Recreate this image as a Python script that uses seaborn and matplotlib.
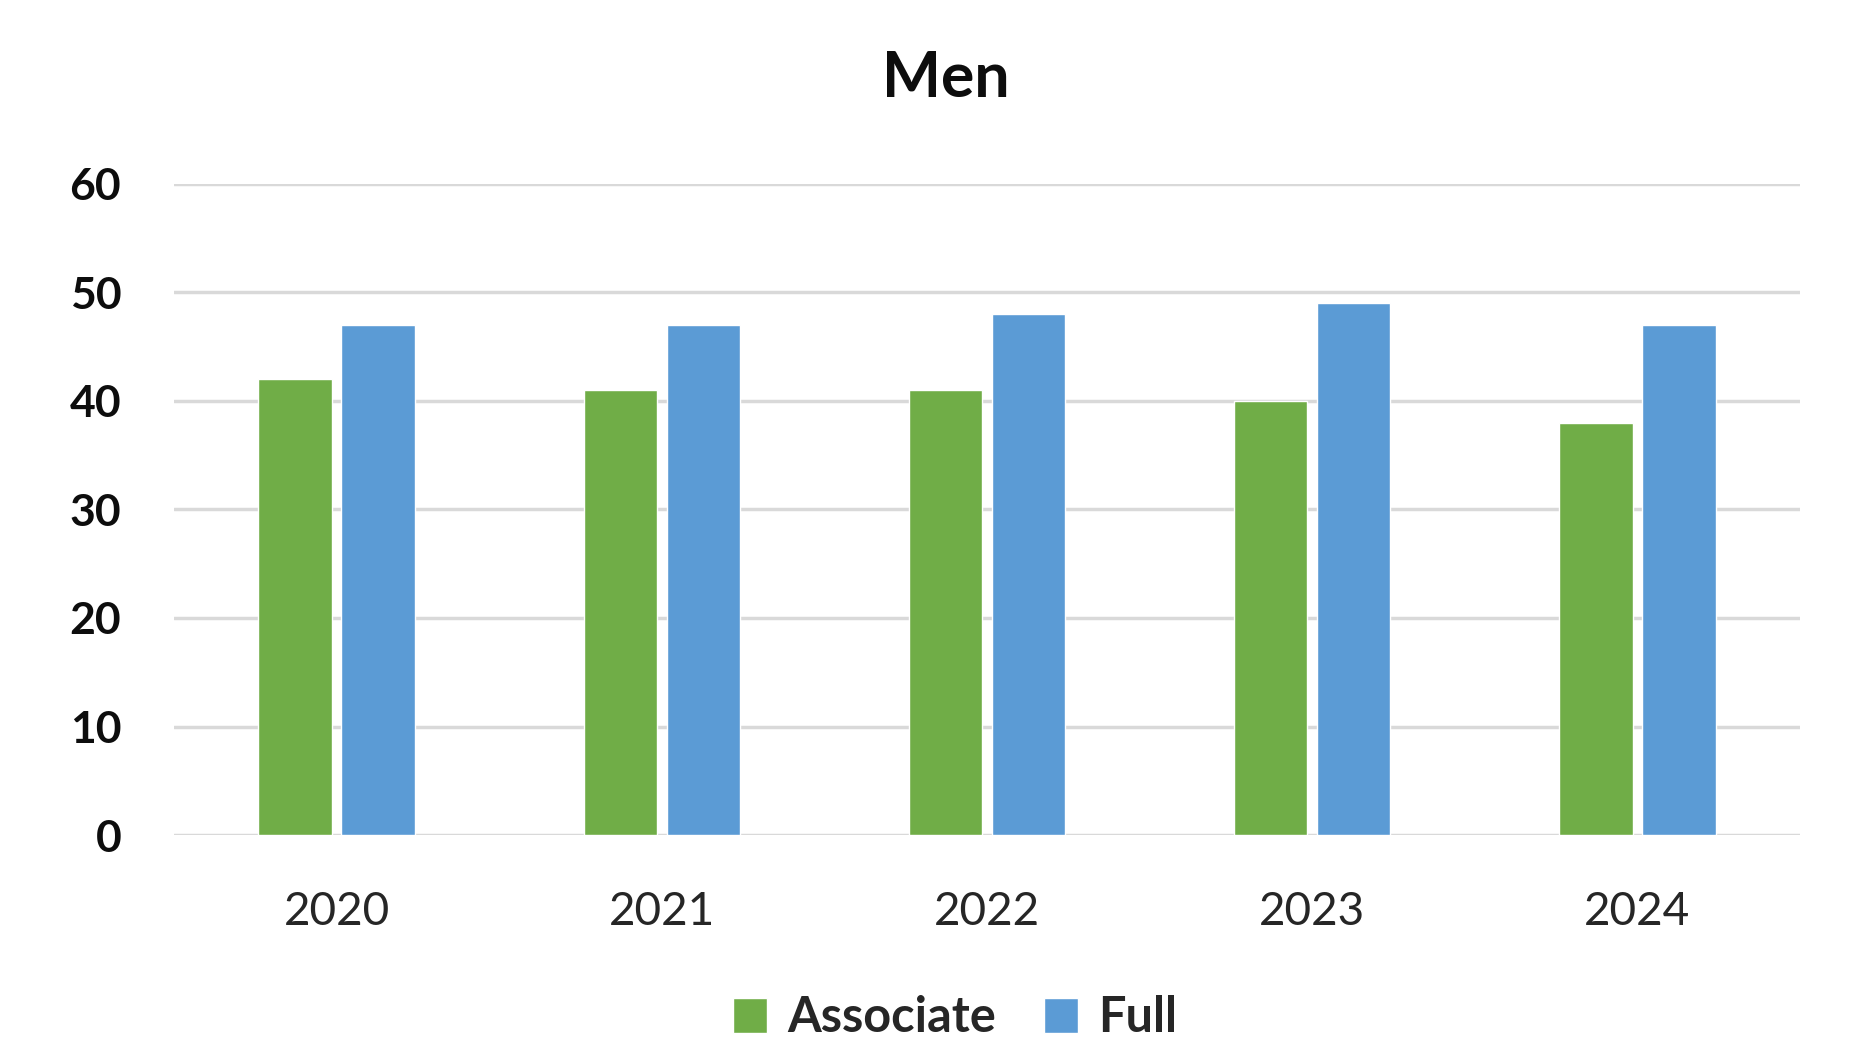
import matplotlib
matplotlib.use("Agg")
import matplotlib.pyplot as plt
import seaborn as sns
import pandas as pd
from matplotlib.patches import Patch

years = ["2020", "2021", "2022", "2023", "2024"]
associate = [42, 41, 41, 40, 38]
full = [47, 47, 48, 49, 47]
series_names = ["Associate", "Full"]
colors = ["#70AD47", "#5B9BD5"]
yticks = [0, 10, 20, 30, 40, 50, 60]

df = pd.DataFrame({
    "year": years * 2,
    "value": associate + full,
    "series": [series_names[0]] * len(years) + [series_names[1]] * len(years),
})

sns.set_theme(style="white")
plt.rcParams["font.family"] = ["Lato", "DejaVu Sans"]

fig = plt.figure(figsize=(18.62, 10.57), dpi=100)
ax = fig.add_axes([174 / 1862, 1 - 835 / 1057, 1626 / 1862, 651 / 1057])

sns.barplot(data=df, x="year", y="value", hue="series", palette=colors,
            width=0.51, gap=0.115, ax=ax, legend=False, saturation=1)

ax.set_ylim(0, 60)
ax.set_xlim(-0.5, 4.5)
ax.set_yticks(yticks)
ax.yaxis.grid(True, color="#D9D9D9", linewidth=2.5)
ax.set_axisbelow(True)
for s in ax.spines.values():
    s.set_visible(False)
ax.set_xlabel("")
ax.set_ylabel("")
ax.tick_params(axis="y", length=0, pad=38, labelsize=32)
ax.tick_params(axis="x", length=0, pad=40, labelsize=33)
for lbl in ax.get_yticklabels():
    lbl.set_fontweight("bold")
    lbl.set_color("#0D0D0D")
for lbl in ax.get_xticklabels():
    lbl.set_color("#262626")

fig.text(946 / 1862, 1 - 79 / 1057, "Men", ha="center", va="center",
         fontsize=45, fontweight="bold", color="#0D0D0D")

handles = [Patch(facecolor=c, label=n) for c, n in zip(colors, series_names)]
fig.legend(handles=handles, loc="center", bbox_to_anchor=(955 / 1862, 1 - 1018 / 1057),
           ncol=2, frameon=False, prop={"size": 35, "weight": "bold"},
           handlelength=0.7, handleheight=0.7, handletextpad=0.4, columnspacing=1.0)

fig.savefig("out.png", dpi=100, facecolor="white")
